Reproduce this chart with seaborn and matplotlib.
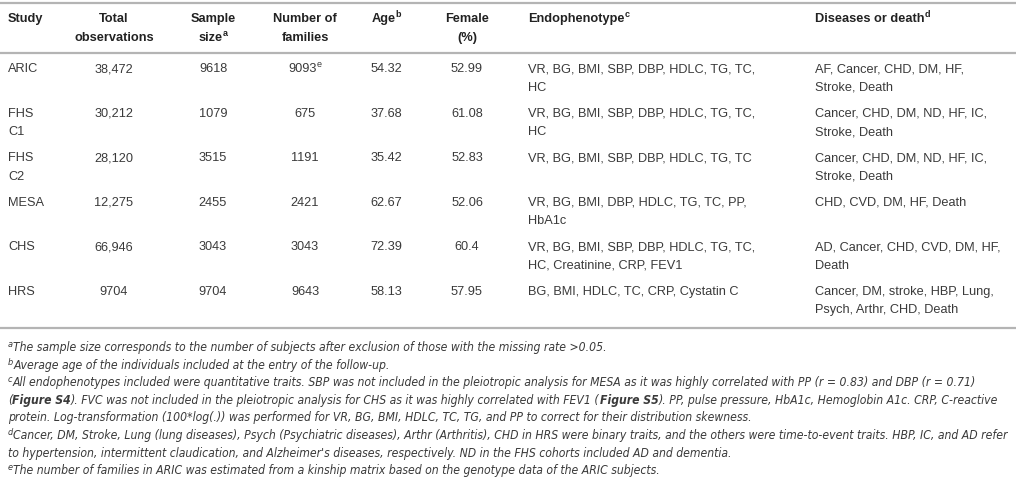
import numpy as np
import pandas as pd
import seaborn as sns
import matplotlib.pyplot as plt
from matplotlib import font_manager

# table content
studies = ["ARIC", "FHS\nC1", "FHS\nC2", "MESA", "CHS", "HRS"]
total_obs = ["38,472", "30,212", "28,120", "12,275", "66,946", "9704"]
sample_size = ["9618", "1079", "3515", "2455", "3043", "9704"]
n_families = ["9093", "675", "1191", "2421", "3043", "9643"]
family_notes = ["e", "", "", "", "", ""]
age = ["54.32", "37.68", "35.42", "62.67", "72.39", "58.13"]
female = ["52.99", "61.08", "52.83", "52.06", "60.4", "57.95"]
endophenotypes = [
    "VR, BG, BMI, SBP, DBP, HDLC, TG, TC,\nHC",
    "VR, BG, BMI, SBP, DBP, HDLC, TG, TC,\nHC",
    "VR, BG, BMI, SBP, DBP, HDLC, TG, TC",
    "VR, BG, BMI, DBP, HDLC, TG, TC, PP,\nHbA1c",
    "VR, BG, BMI, SBP, DBP, HDLC, TG, TC,\nHC, Creatinine, CRP, FEV1",
    "BG, BMI, HDLC, TC, CRP, Cystatin C",
]
diseases = [
    "AF, Cancer, CHD, DM, HF,\nStroke, Death",
    "Cancer, CHD, DM, ND, HF, IC,\nStroke, Death",
    "Cancer, CHD, DM, ND, HF, IC,\nStroke, Death",
    "CHD, CVD, DM, HF, Death",
    "AD, Cancer, CHD, CVD, DM, HF,\nDeath",
    "Cancer, DM, stroke, HBP, Lung,\nPsych, Arthr, CHD, Death",
]
headers = [("Study", ""), ("Total\nobservations", ""), ("Sample\nsize", "a"),
           ("Number of\nfamilies", ""), ("Age", "b"), ("Female\n(%)", ""),
           ("Endophenotype", "c"), ("Diseases or death", "d")]

# footnotes: note letter + runs of (text, bold)
footnotes = [
    ("a", [("The sample size corresponds to the number of subjects after exclusion of those with the missing rate >0.05.", False)]),
    ("b", [("Average age of the individuals included at the entry of the follow-up.", False)]),
    ("c", [("All endophenotypes included were quantitative traits. SBP was not included in the pleiotropic analysis for MESA as it was highly correlated with PP (r = 0.83) and DBP (r = 0.71)", False)]),
    ("", [("(", False), ("Figure S4", True), ("). FVC was not included in the pleiotropic analysis for CHS as it was highly correlated with FEV1 (", False),
          ("Figure S5", True), ("). PP, pulse pressure, HbA1c, Hemoglobin A1c. CRP, C-reactive", False)]),
    ("", [("protein. Log-transformation (100*log(.)) was performed for VR, BG, BMI, HDLC, TC, TG, and PP to correct for their distribution skewness.", False)]),
    ("d", [("Cancer, DM, Stroke, Lung (lung diseases), Psych (Psychiatric diseases), Arthr (Arthritis), CHD in HRS were binary traits, and the others were time-to-event traits. HBP, IC, and AD refer", False)]),
    ("", [("to hypertension, intermittent claudication, and Alzheimer's diseases, respectively. ND in the FHS cohorts included AD and dementia.", False)]),
    ("e", [("The number of families in ARIC was estimated from a kinship matrix based on the genotype data of the ARIC subjects.", False)]),
]

df = pd.DataFrame({
    "Study": studies, "Total observations": total_obs, "Sample size": sample_size,
    "Number of families": n_families, "Age": age, "Female (%)": female,
    "Endophenotype": endophenotypes, "Diseases or death": diseases,
})

sns.set_theme(style="white")
plt.rcParams["font.family"] = ["Liberation Sans", "DejaVu Sans"]

W, H = 1016, 478
fig = plt.figure(figsize=(W / 100, H / 100), dpi=100)
ax = fig.add_axes([0, 0, 1, 1])
ax.set_xlim(0, W)
ax.set_ylim(H, 0)
ax.axis("off")
renderer = fig.canvas.get_renderer()

body_color = "#3a3a3a"
head_color = "#222222"
rule_color = "#b4b4b4"
body_size = 9.2
line_h = 18.5

col_x = [8, 114, 213, 305, 386, 467, 528, 815]
col_align = ["left", "center", "center", "center", "center", "center", "left", "left"]

# pick a narrow font for the footnotes if one is installed
names = {(f.name, f.stretch) for f in font_manager.fontManager.ttflist}
note_font = dict(family=["Liberation Sans", "DejaVu Sans"])
if any(n == "Liberation Sans Narrow" for n, s in names):
    note_font = dict(family=["Liberation Sans Narrow", "DejaVu Sans"])
elif any(n == "DejaVu Sans" and s == "condensed" for n, s in names):
    note_font = dict(family=["DejaVu Sans"], stretch="condensed")


def text_width(t):
    return t.get_window_extent(renderer=renderer).width


def draw_runs(x, y, runs, ha="left"):
    items = []
    cx = x
    for txt, kw, dy in runs:
        t = ax.text(cx, y + dy, txt, va="baseline", ha="left", **kw)
        cx += text_width(t)
        items.append(t)
    if ha == "center":
        total = cx - x
        for t in items:
            t.set_x(t.get_position()[0] - total / 2)
    return items, cx - x


def draw_cell(x, y, text, ha, kw, sup="", sup_kw=None):
    lines = text.split("\n")
    for i, ln in enumerate(lines):
        runs = [(ln, kw, 0)]
        if sup and i == len(lines) - 1:
            runs.append((sup, sup_kw, -5))
        draw_runs(x, y + i * line_h, runs, ha=ha)


# rules
for yr in (3, 53, 328):
    ax.axhline(yr, color=rule_color, lw=1.6)

head_kw = dict(fontsize=body_size, fontweight="bold", color=head_color)
head_sup = dict(fontsize=6.5, fontweight="bold", color=head_color)
body_kw = dict(fontsize=body_size, color=body_color)
body_sup = dict(fontsize=6.5, color=body_color)

head_base = 22
for (label, sup), x, ha in zip(headers, col_x, col_align):
    draw_cell(x, head_base, label, ha, head_kw, sup, head_sup)

row_base = 72
row_step = 44.6
for i, row in df.iterrows():
    y = row_base + i * row_step
    for j, (v, x, ha) in enumerate(zip(row.values, col_x, col_align)):
        sup = family_notes[i] if j == 3 else ""
        draw_cell(x, y, v, ha, body_kw, sup, body_sup)


def note_runs(letter, parts, size):
    kw = dict(fontsize=size, style="italic", color=body_color, **note_font)
    bold = dict(kw, fontweight="bold")
    sup = dict(kw, fontsize=size * 0.75)
    runs = []
    if letter:
        runs.append((letter, sup, -4))
    for txt, b in parts:
        runs.append((txt, bold if b else kw, 0))
    return runs


# fit footnote size so the widest line spans the table width
widest = 0
for letter, parts in footnotes:
    items, w = draw_runs(0, 0, note_runs(letter, parts, 10))
    widest = max(widest, w)
    for t in items:
        t.remove()
note_size = 10 * 1000 / widest

note_base = 351
note_step = 17.6
for k, (letter, parts) in enumerate(footnotes):
    draw_runs(8, note_base + k * note_step, note_runs(letter, parts, note_size))

fig.savefig("out.png", dpi=100)
